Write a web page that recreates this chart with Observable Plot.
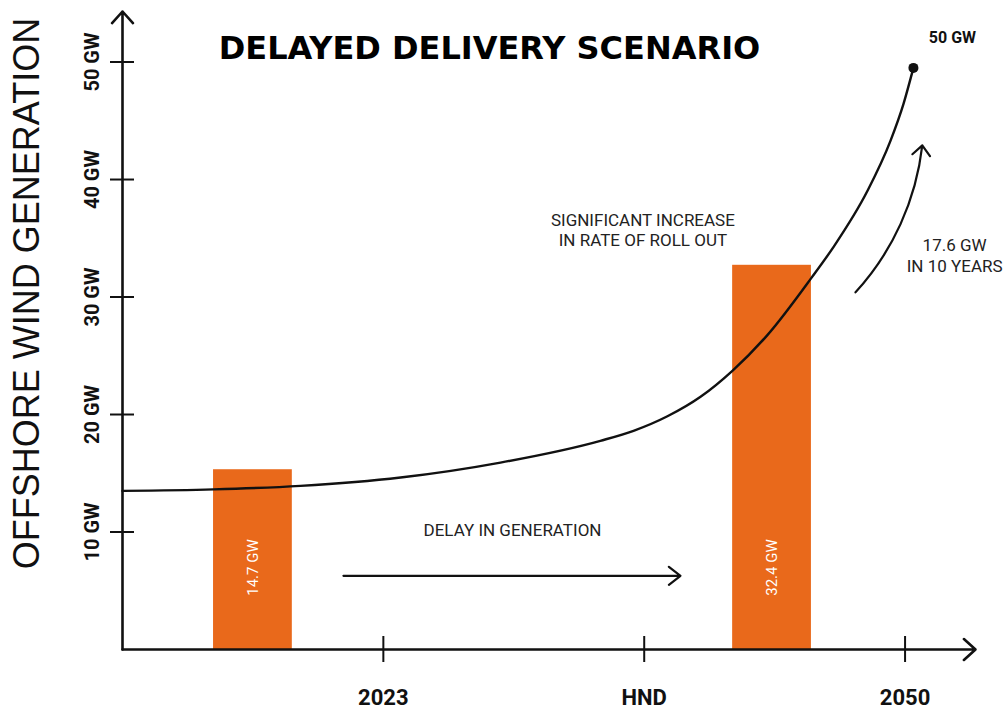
<!DOCTYPE html>
<html>
<head>
<meta charset="utf-8">
<script src="https://cdn.jsdelivr.net/npm/d3@7"></script>
<script src="https://cdn.jsdelivr.net/npm/@observablehq/plot@0.6"></script>
<style>
  html, body { margin: 0; padding: 0; background: #fff; }
  #chart { width: 1007px; height: 711px; }
</style>
</head>
<body>
<div id="chart"></div>
<script>
// ---- data ----
const xTickPos = [1, 2, 3];
const xTickLabels = ["2023", "HND", "2050"];
const yTickValues = [10, 20, 30, 40, 50];
const yTickLabels = ["10 GW", "20 GW", "30 GW", "40 GW", "50 GW"];
const barX = [0.5, 2.49];
const barValues = [15.3, 32.7];
const barLabels = ["14.7 GW", "32.4 GW"];
const curveX = [0, 0.349, 0.682, 1.066, 1.449, 1.832, 1.959, 2.089, 2.216, 2.338, 2.473, 2.641, 2.726, 2.856, 2.944, 2.994, 3.032];
const curveY = [13.5, 13.63, 13.93, 14.64, 15.91, 17.76, 18.61, 19.85, 21.51, 23.72, 26.78, 31.63, 34.27, 39.04, 43.29, 46.44, 49.5];
const endLabel = "50 GW";
const titleText = "DELAYED DELIVERY SCENARIO";
const yTitle = "OFFSHORE WIND GENERATION";

// ---- tables ----
const bars = barX.map((x, i) => ({x, v: barValues[i], label: barLabels[i]}));
const curve = curveX.map((x, i) => ({x, y: curveY[i]}));
const endPoint = [curve[curve.length - 1]];

const ink = "#111";
const chart = Plot.plot({
  width: 1007,
  height: 711,
  marginLeft: 122,
  marginRight: 32,
  marginTop: 11,
  marginBottom: 62,
  x: {domain: [0, 3.27], axis: null},
  y: {domain: [0, 54.3], axis: null},
  style: {fontFamily: "Roboto, sans-serif", background: "#fff", color: ink, overflow: "visible"},
  marks: [
    Plot.rectY(bars, {x1: d => d.x - 0.151, x2: d => d.x + 0.151, y1: 0, y2: "v", fill: "#E9691B"}),
    Plot.text(bars, {x: "x", text: "label", frameAnchor: "bottom", lineAnchor: "middle", dy: -82, rotate: -90, fill: "#fff", fontSize: 15}),
    Plot.line(curve, {x: "x", y: "y", curve: "monotone-x", stroke: ink, strokeWidth: 2.4}),
    Plot.dot(endPoint, {x: "x", y: "y", r: 5, fill: ink}),
    Plot.text(endPoint, {x: "x", y: "y", text: () => endLabel, dx: 39, dy: -30, fontWeight: "bold", fontSize: 16}),
    // axes
    Plot.arrow([0], {x1: 0, y1: 0, x2: 0, y2: 54.3, stroke: ink, strokeWidth: 2.6, headLength: 9, headAngle: 84}),
    Plot.arrow([0], {x1: 0, y1: 0, x2: 3.27, y2: 0, stroke: ink, strokeWidth: 2.6, headLength: 9, headAngle: 84}),
    Plot.ruleY(yTickValues, {y: d => d, x1: 0, x2: 0, insetLeft: -12, insetRight: -12, stroke: ink, strokeWidth: 2}),
    Plot.ruleX(xTickPos, {x: d => d, y1: 0, y2: 0, insetTop: -13, insetBottom: -13, stroke: ink, strokeWidth: 2}),
    Plot.text(yTickValues, {x: 0, y: d => d, text: (d, i) => yTickLabels[i], rotate: -90, dx: -30, fontWeight: "bold", fontSize: 20, fill: ink}),
    Plot.text(xTickPos, {x: d => d, y: 0, text: (d, i) => xTickLabels[i], dy: 48, fontWeight: "bold", fontSize: 22, fill: ink}),
    // titles
    Plot.text([titleText], {frameAnchor: "top-left", textAnchor: "middle", lineAnchor: "middle", dx: 367, dy: 37, text: d => d, fontFamily: "DejaVu Sans", fontWeight: "bold", fontSize: 32, fill: "#000"}),
    Plot.text([yTitle], {frameAnchor: "left", textAnchor: "middle", lineAnchor: "middle", dx: -95, dy: -37, rotate: -90, text: d => d, fontFamily: "Liberation Sans, Arial", fontSize: 36, fill: ink}),
    // annotations
    Plot.text(["SIGNIFICANT INCREASE\nIN RATE OF ROLL OUT"], {x: 1.995, y: 35.7, text: d => d, fontSize: 17, lineHeight: 1.18, fill: "#222"}),
    Plot.text(["17.6 GW\nIN 10 YEARS"], {x: 3.19, y: 33.6, text: d => d, fontSize: 17, lineHeight: 1.24, fill: "#222"}),
    Plot.text(["DELAY IN GENERATION"], {x: 1.495, y: 10.1, text: d => d, fontSize: 17, fill: "#222"}),
    Plot.arrow([0], {x1: 0.847, y1: 6.27, x2: 2.139, y2: 6.27, stroke: ink, strokeWidth: 2.2, headLength: 10, headAngle: 76}),
    Plot.arrow([0], {x1: 2.81, y1: 30.4, x2: 3.066, y2: 42.9, bend: -18, stroke: ink, strokeWidth: 2.2, headLength: 9, headAngle: 84})
  ]
});
document.getElementById("chart").appendChild(chart);
</script>
</body>
</html>
